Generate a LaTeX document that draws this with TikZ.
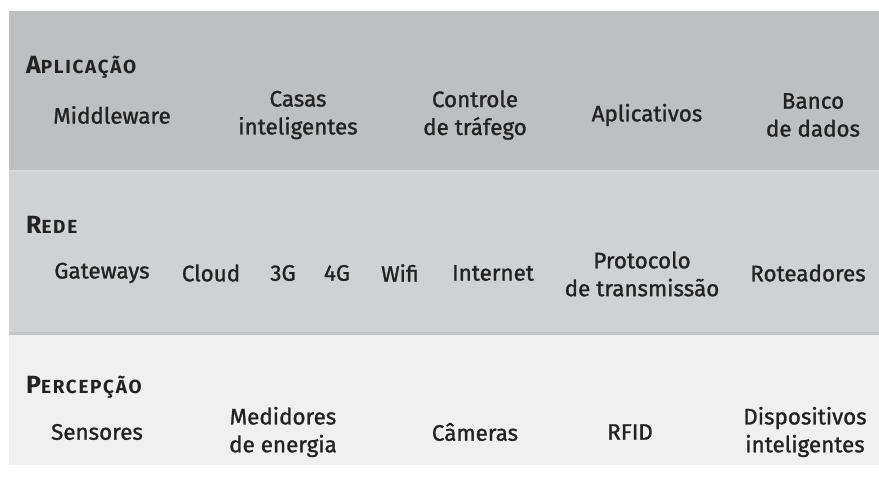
\documentclass[tikz,border=0pt]{standalone}
\usepackage{fontspec}
\setmainfont{Fira Sans}
\newfontfamily\itemfont[FakeBold=1.2]{Fira Sans}
\definecolor{bandA}{HTML}{BEBFC1}
\definecolor{bandB}{HTML}{D0D1D3}
\definecolor{bandC}{HTML}{F0F0F0}
\definecolor{sepA}{HTML}{D8D9DA}
\definecolor{sepB}{HTML}{C6C7C9}
\definecolor{txt}{HTML}{222222}
\newcommand{\fsc}[2]{{\fontsize{25}{25}\selectfont #1}{\fontsize{19}{19}\selectfont\addfontfeatures{LetterSpace=9}#2}}
\begin{document}
\begin{tikzpicture}[x=1bp,y=-1bp,
  item/.style={font=\itemfont\fontsize{22.5}{28}\selectfont, align=center, text=txt, inner sep=0pt},
  head/.style={font=\bfseries, text=txt, inner sep=0pt, anchor=west}]
\useasboundingbox (0,0) rectangle (879,489);
\fill[white] (0,0) rectangle (879,489);
\fill[bandA] (9,11) rectangle (879,171);
\fill[bandB] (9,171) rectangle (879,334);
\fill[bandC] (9,334) rectangle (879,465);
\fill[sepA] (9,170) rectangle (879,172.5);
\fill[sepB] (9,332) rectangle (879,334.5);
% Aplicação
\node[head] (hA) at (26,67) {\fsc{A}{PLICAÇÃO}};
\node[item] (a1) at (112,115) {Middleware};
\node[item] (a2) at (298,115) {Casas\\inteligentes};
\node[item] (a3) at (475,115) {Controle\\de tráfego};
\node[item] (a4) at (647,115) {Aplicativos};
\node[item] (a5) at (813,115) {Banco\\de dados};
% Rede
\node[head] (hB) at (26,225) {\fsc{R}{EDE}};
\node[item] (b1) at (102,273) {Gateways};
\node[item] (b2) at (211,273) {Cloud};
\node[item] (b3) at (283,273) {3G};
\node[item] (b4) at (337,273) {4G};
\node[item] (b5) at (400,273) {Wifi};
\node[item] (b6) at (493,273) {Internet};
\node[item] (b7) at (642,274) {Protocolo\\de transmissão};
\node[item] (b8) at (808,273) {Roteadores};
% Percepção
\node[head] (hC) at (26,387) {\fsc{P}{ERCEPÇÃO}};
\node[item] (c1) at (97,432) {Sensores};
\node[item] (c2) at (283,432) {Medidores\\de energia};
\node[item] (c3) at (475,432) {Câmeras};
\node[item] (c4) at (630,432) {RFID};
\node[item] (c5) at (805,432) {Dispositivos\\inteligentes};
\end{tikzpicture}
\end{document}
